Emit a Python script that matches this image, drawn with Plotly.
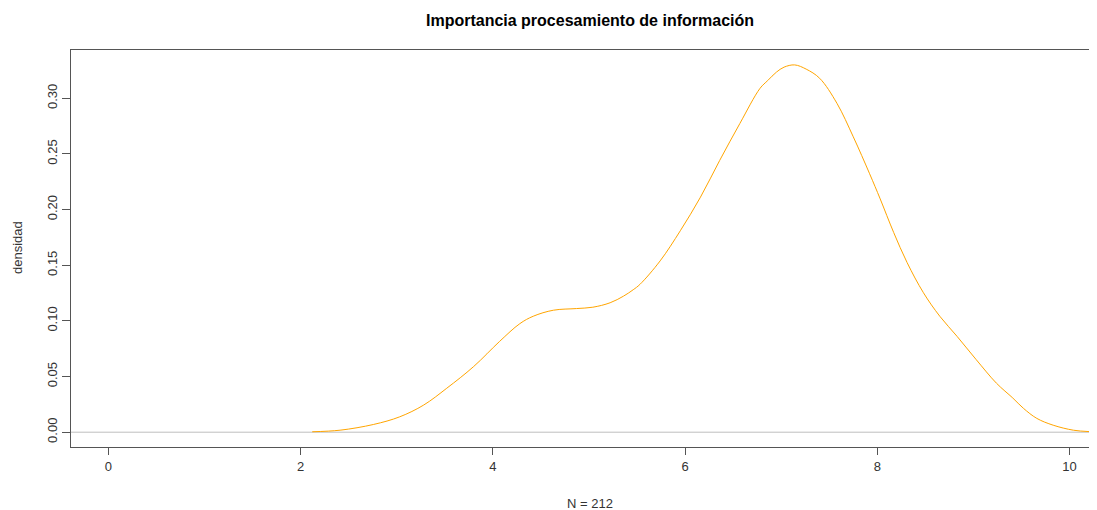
import plotly.graph_objects as go

# Density curve values
x_vals = [2.12, 2.41, 2.76, 3.03, 3.28, 3.52, 3.80, 4.07, 4.28, 4.42, 4.63, 4.87,
          5.04, 5.22, 5.36, 5.46, 5.53, 5.74, 5.95, 6.16, 6.36, 6.57, 6.78, 6.86,
          6.95, 7.03, 7.14, 7.26, 7.40, 7.58, 7.75, 7.92, 8.03, 8.17, 8.31, 8.48,
          8.65, 8.83, 9.03, 9.24, 9.41, 9.52, 9.66, 9.83, 10.04, 10.21]
y_vals = [0.0004, 0.0018, 0.0070, 0.0138, 0.0244, 0.0395, 0.0590, 0.0816, 0.0975,
          0.1042, 0.1096, 0.1111, 0.1123, 0.1163, 0.1223, 0.1280, 0.1328, 0.1539,
          0.1810, 0.2112, 0.2442, 0.2774, 0.3090, 0.3160, 0.3235, 0.3280, 0.3300,
          0.3262, 0.3180, 0.2955, 0.2654, 0.2322, 0.2096, 0.1795, 0.1524, 0.1253,
          0.1042, 0.0861, 0.0651, 0.0440, 0.0307, 0.0215, 0.0124, 0.0063, 0.0018,
          0.0005]

x_ticks = [0, 2, 4, 6, 8, 10]
y_ticks = [0.00, 0.05, 0.10, 0.15, 0.20, 0.25, 0.30]
y_tick_labels = ["0.00", "0.05", "0.10", "0.15", "0.20", "0.25", "0.30"]

title_text = "Importancia procesamiento de información"
x_label = "N = 212"
y_label = "densidad"

# page has an 8px body margin; compensate so the figure fills the 1097x510 window
OFF = 8
W, H = 1097 - OFF, 510 - OFF
L, T, B = 71 - OFF, 50 - OFF, H - (447 - OFF)

fig = go.Figure()
fig.add_trace(go.Scatter(x=x_vals, y=y_vals, mode="lines",
                         line=dict(color="#FFA500", width=1, shape="spline", smoothing=1.0),
                         hoverinfo="skip", showlegend=False))

# zero reference line
fig.add_shape(type="line", xref="paper", yref="y", x0=0, x1=1, y0=0, y1=0,
              line=dict(color="#BEBEBE", width=1), layer="below")

axis_font = dict(family="Liberation Sans, Arial, sans-serif", size=13, color="#333333")

plot_w = W - L
plot_h = H - T - B

fig.update_layout(
    width=W, height=H,
    margin=dict(l=L, r=0, t=T, b=B, pad=0),
    paper_bgcolor="white", plot_bgcolor="white",
    title=dict(text="<b>" + title_text + "</b>", x=(590 - OFF) / W, xanchor="center",
               y=1 - (20 - OFF) / H, yanchor="middle",
               font=dict(family="Liberation Sans, Arial, sans-serif", size=16, color="#000000")),
    xaxis=dict(range=[-0.39, 10.286], tickvals=x_ticks, ticktext=[str(v) for v in x_ticks],
               ticks="outside", ticklen=7, tickcolor="#555555", tickwidth=1,
               showline=True, linecolor="#555555", linewidth=1, mirror=True,
               showgrid=False, zeroline=False, tickfont=axis_font),
    yaxis=dict(range=[-0.0133, 0.3434], tickvals=y_ticks, ticktext=y_tick_labels,
               ticks="outside", ticklen=8, tickcolor="#555555", tickwidth=1,
               showline=True, linecolor="#555555", linewidth=1,
               showgrid=False, zeroline=False, tickangle=-90, tickfont=axis_font),
    annotations=[
        dict(text=x_label, xref="paper", yref="paper", x=(590 - 71) / plot_w,
             y=-(503 - 447) / plot_h, xanchor="center", yanchor="middle",
             showarrow=False, font=axis_font),
        dict(text=y_label, xref="paper", yref="paper", x=-(71 - 18) / plot_w,
             y=(447 - 248) / plot_h, xanchor="center", yanchor="middle",
             textangle=-90, showarrow=False, font=axis_font),
    ],
)

fig.write_html("out.html")
